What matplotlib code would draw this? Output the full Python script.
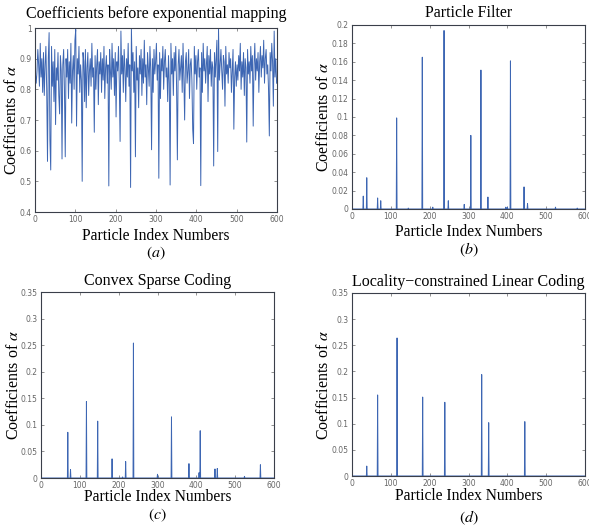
import numpy as np
import matplotlib
matplotlib.use("Agg")
import matplotlib.pyplot as plt
from matplotlib.ticker import FuncFormatter

plt.rcParams['mathtext.fontset'] = 'stix'

# ---------------- data ----------------
# (a) coefficients before exponential mapping, sampled at odd particle indices 1,3,...,599
a_index = list(range(1, 600, 2))
a_values = [
    0.85, 0.82, 0.86, 0.93, 0.88, 0.81, 0.95, 0.84, 0.90, 0.79,
    0.92, 0.78, 0.88, 0.94, 0.80, 0.565, 0.90, 0.985, 0.635, 0.537,
    0.94, 0.81, 0.89, 0.76, 0.93, 0.685, 0.87, 0.83, 0.92, 0.78,
    0.72, 0.91, 0.86, 0.573, 0.88, 0.93, 0.80, 0.58, 0.90, 0.84,
    0.93, 0.77, 0.89, 0.82, 0.95, 0.69, 0.86, 0.91, 0.80, 0.96,
    0.995, 0.68, 0.90, 0.85, 0.94, 0.79, 0.88, 0.83, 0.50, 0.92,
    0.89, 0.76, 0.93, 0.74, 0.87, 0.92, 0.78, 0.86, 0.90, 0.81,
    0.95, 0.84, 0.87, 0.66, 0.91, 0.80, 0.88, 0.93, 0.75, 0.89,
    0.85, 0.92, 0.79, 0.90, 0.83, 0.94, 0.77, 0.87, 0.91, 0.82,
    0.88, 0.485, 0.93, 0.86, 0.80, 0.95, 0.84, 0.90, 0.78, 0.92,
    0.71, 0.89, 0.86, 0.94, 0.82, 0.63, 0.99, 0.85, 0.91, 0.79,
    0.93, 0.87, 0.76, 0.90, 0.84, 0.95, 0.81, 0.88, 0.48, 1.0,
    0.86, 0.92, 0.79, 0.89, 0.58, 0.94, 0.83, 0.87, 0.74, 0.91,
    0.85, 0.93, 0.78, 0.90, 0.82, 0.96, 0.84, 0.88, 0.75, 0.92,
    0.87, 0.81, 0.94, 0.86, 0.603, 0.90, 0.79, 0.93, 0.85, 0.89,
    0.95, 0.83, 0.88, 0.51, 0.92, 0.77, 0.90, 0.86, 0.94, 0.80,
    0.89, 0.93, 0.84, 0.87, 0.76, 0.91, 0.82, 0.488, 0.95, 0.85,
    0.90, 0.78, 0.92, 0.86, 0.94, 0.81, 0.57, 0.88, 0.93, 0.83,
    0.87, 0.91, 0.79, 0.95, 0.84, 0.70, 0.89, 0.92, 0.82, 0.86,
    0.93, 0.77, 0.88, 0.90, 0.83, 0.67, 0.623, 0.94, 0.85, 0.91,
    0.80, 0.89, 0.93, 0.84, 0.87, 0.486, 0.92, 0.79, 0.95, 0.86,
    0.90, 0.82, 0.88, 0.94, 0.76, 0.91, 0.85, 0.93, 0.81, 0.89,
    0.87, 0.55, 0.92, 0.84, 0.90, 0.96, 0.597, 1.0, 0.83, 0.88,
    0.93, 0.86, 0.80, 0.91, 0.89, 0.745, 0.94, 0.85, 0.88, 0.82,
    0.92, 0.87, 0.90, 0.79, 0.86, 0.93, 0.67, 0.84, 0.89, 0.81,
    0.88, 0.83, 0.91, 0.86, 0.95, 0.80, 0.89, 0.84, 0.92, 0.78,
    0.90, 0.87, 0.628, 0.93, 0.85, 0.89, 0.82, 0.94, 0.86, 0.91,
    0.68, 0.88, 0.95, 0.83, 0.90, 0.86, 0.92, 0.79, 0.89, 0.94,
    0.84, 0.91, 0.87, 0.96, 0.82, 0.90, 0.93, 0.85, 0.88, 0.80,
    0.648, 0.92, 0.86, 0.95, 0.89, 0.745, 0.99, 0.84, 0.90, 0.82,
]

n_particles = 600

# (b) Particle Filter: nonzero coefficients (particle index, value)
pf_index = [29, 38, 39, 66, 74, 115, 145, 181, 208, 237, 248, 289, 306, 332, 350, 396, 400, 408, 443, 452, 524, 580]
pf_values = [0.014, 0.034, 0.001, 0.012, 0.009, 0.099, 0.001, 0.165, 0.002, 0.194, 0.009, 0.005, 0.080, 0.151, 0.013,
             0.002, 0.002, 0.161, 0.024, 0.006, 0.002, 0.001]

# (c) Convex Sparse Coding
csc_index = [69, 76, 117, 146, 183, 210, 218, 238, 300, 336, 381, 407, 410, 448, 454, 524, 565]
csc_values = [0.086, 0.016, 0.144, 0.107, 0.036, 0.002, 0.031, 0.254, 0.007, 0.115, 0.027, 0.010, 0.089, 0.017, 0.018,
              0.003, 0.025]

# (d) Locality-constrained Linear Coding
llc_index = [38, 66, 116, 182, 239, 334, 352, 445]
llc_values = [0.019, 0.155, 0.264, 0.151, 0.141, 0.194, 0.102, 0.104]

titles = ["Coefficients before exponential mapping", "Particle Filter",
          "Convex Sparse Coding", "Locality\u2212constrained Linear Coding"]
tags = ["a", "b", "c", "d"]

# ---------------- drawing ----------------
W, H = 589, 527
fig = plt.figure(figsize=(W / 100, H / 100), dpi=100)

def axrect(l, r, t, b):
    return [l / W, 1 - b / H, (r - l) / W, (b - t) / H]

LINE = '#3d66b3'
SERIF = 'Liberation Serif'

# (left, right, top, bottom) in pixels
px_boxes = [(35, 277, 28, 212), (352, 585, 25, 209), (41, 274, 292, 478), (352, 585, 293, 476)]
# positions (pixels) for title y, xlabel y, ylabel x, caption y
title_y = [14, 13, 281, 282]
xlabel_y = [236, 232, 497, 496]
ylabel_x = [12, 324, 14, 324]
caption_y = [253, 250, 515, 518]

def sparse_series(idx, vals):
    x = np.arange(1, n_particles + 1)
    y = np.zeros(n_particles)
    for i, v in zip(idx, vals):
        y[i - 1] = v
    return x, y

series = [
    (np.array(a_index), np.array(a_values)),
    sparse_series(pf_index, pf_values),
    sparse_series(csc_index, csc_values),
    sparse_series(llc_index, llc_values),
]
ylims = [(0.4, 1.0), (0, 0.2), (0, 0.35), (0, 0.35)]
ysteps = [0.1, 0.02, 0.05, 0.05]

fmt = FuncFormatter(lambda v, p: ('%g' % round(v, 4)))

def fx(px):
    return px / W

def fy(py):
    return 1 - py / H

for k, (box, (x, y)) in enumerate(zip(px_boxes, series)):
    l, r, t, b = box
    ax = fig.add_axes(axrect(*box))
    ax.plot(x, y, color=LINE, lw=0.7)
    ax.set_xlim(0, 600)
    ax.set_ylim(*ylims[k])
    ax.set_xticks(np.arange(0, 601, 100))
    lo, hi = ylims[k]
    ax.set_yticks(np.arange(lo, hi + 1e-9, ysteps[k]))
    ax.xaxis.set_major_formatter(fmt)
    ax.yaxis.set_major_formatter(fmt)
    ax.tick_params(direction='in', length=2.5, width=0.5, labelsize=5.5,
                   colors='#666666', top=True, right=True, pad=2.5)
    for s in ax.spines.values():
        s.set_color('#3a3f4a')
        s.set_linewidth(0.8)
    cx = (l + r) / 2
    cy = (t + b) / 2
    fig.text(fx(cx), fy(title_y[k]), titles[k], family=SERIF, fontsize=11.5,
             ha='center', va='center')
    fig.text(fx(cx), fy(xlabel_y[k]), 'Particle Index Numbers', family=SERIF,
             fontsize=11.2, ha='center', va='center')
    fig.text(fx(ylabel_x[k]), fy(cy), r'Coefficients of $\alpha$', family=SERIF,
             fontsize=11.5, ha='center', va='center', rotation=90)
    fig.text(fx(cx), fy(caption_y[k]), r'$(%s)$' % tags[k], fontsize=11.5,
             ha='center', va='center')

fig.savefig('out.png', dpi=100, facecolor='white')
